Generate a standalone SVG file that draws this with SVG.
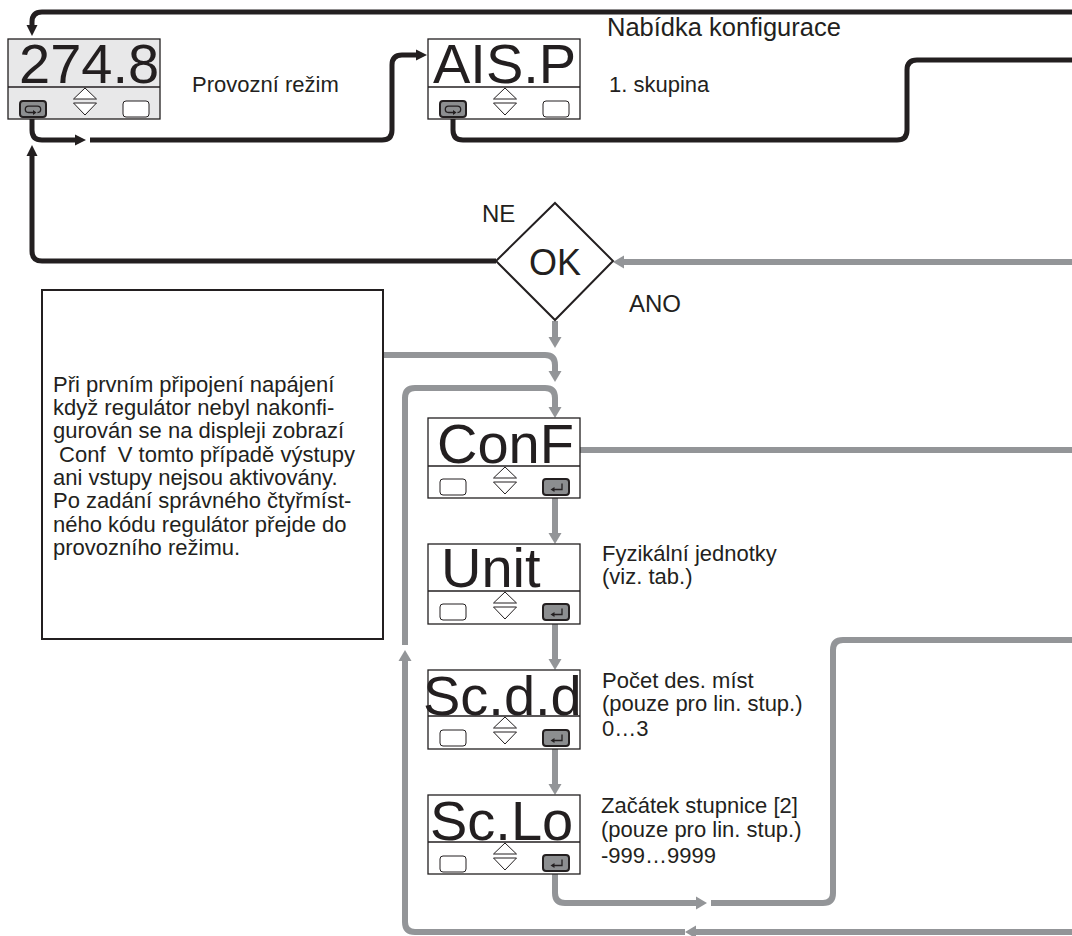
<svg xmlns="http://www.w3.org/2000/svg" xmlns:xlink="http://www.w3.org/1999/xlink" width="1072" height="936" viewBox="0 0 1072 936">
<style>
.t{font-family:"Liberation Sans",Arial,Helvetica,sans-serif;fill:#231f20}
.lbl{font-size:22px}
.big{font-size:56px}
.box{fill:#fff;stroke:#231f20;stroke-width:1.3}
.div{stroke:#231f20;stroke-width:1.3}
.blk{fill:none;stroke:#231f20;stroke-width:5}
.gry{fill:none;stroke:#939598;stroke-width:6}
.dk{fill:#8c8e90;stroke:#231f20;stroke-width:2}
</style>
<defs>
<marker id="ab" markerUnits="userSpaceOnUse" markerWidth="12" markerHeight="12" refX="0" refY="6" orient="auto"><path d="M0,0.5 L11,6 L0,11.5z" fill="#231f20"/></marker>
<marker id="ag" markerUnits="userSpaceOnUse" markerWidth="13" markerHeight="14" refX="0" refY="7" orient="auto"><path d="M0,0.5 L11,7 L0,13.5z" fill="#939598"/></marker>
<g id="loopBtn"><rect width="26" height="16" rx="3" class="dk"/><path d="M15,11.5 H8.5 a3.2,3.2 0 0 1 0,-6.4 H17.5 a3.2,3.2 0 0 1 0,6.4" fill="none" stroke="#231f20" stroke-width="1.3"/><path d="M13,9 L16.5,11.5 L13,14z" fill="#231f20"/></g>
<g id="entBtn"><rect width="26" height="16" rx="3" class="dk"/><path d="M19,4.5 V10.5 H11" fill="none" stroke="#231f20" stroke-width="1.3"/><path d="M7.5,10.5 L11.5,8 L11.5,13z" fill="#231f20"/></g>
<g id="emptyBtn"><rect width="26" height="16" rx="3" fill="#fff" stroke="#231f20" stroke-width="1"/></g>
<g id="ud"><path d="M-11.5,11 L0,0 L11.5,11z M-11.5,15 L0,27 L11.5,15z" fill="#fff" stroke="#231f20" stroke-width="1"/></g>
</defs>

<g id="connectors">
<path class="blk" d="M1072,12 H42 Q32,12 32,22 V25" marker-end="url(#ab)"/>
<path class="blk" d="M32,118 V130 Q32,140 42,140 H75" marker-end="url(#ab)"/>
<path class="blk" d="M90,140 H382 Q392,140 392,130 V65 Q392,55 402,55 H416" marker-end="url(#ab)"/>
<path class="blk" d="M453,118 V130 Q453,140 463,140 H897 Q907,140 907,130 V70 Q907,60 917,60 H1072"/>
<path class="blk" d="M496,261 H42 Q32,261 32,251 V156" marker-end="url(#ab)"/>
<path class="gry" d="M1072,262 H624" marker-end="url(#ag)"/>
<path class="gry" d="M555,321 V337" marker-end="url(#ag)"/>
<path class="gry" d="M383,355 H545 Q555,355 555,365 V371" marker-end="url(#ag)"/>
<path class="gry" d="M405,645 V398 Q405,388 415,388 H545 Q555,388 555,398 V407" marker-end="url(#ag)"/>
<path class="gry" d="M580,450 H1072"/>
<path class="gry" d="M555,496 V533" marker-end="url(#ag)"/>
<path class="gry" d="M555,622 V659" marker-end="url(#ag)"/>
<path class="gry" d="M555,748 V784" marker-end="url(#ag)"/>
<path class="gry" d="M555,873 V893 Q555,903 565,903 H696" marker-end="url(#ag)"/>
<path class="gry" d="M711,903 H823 Q833,903 833,893 V650 Q833,640 843,640 H1072"/>
<path class="gry" d="M1072,932 H696" marker-end="url(#ag)"/>
<path class="gry" d="M685,932 H415 Q405,932 405,922 V661" marker-end="url(#ag)"/>
</g>

<g id="node-2748">
<rect x="8" y="39" width="152" height="80" class="box" style="fill:#e8e8e9"/>
<line x1="8" y1="87" x2="160" y2="87" class="div"/>
<text x="19" y="83" class="t big">274.8</text>
<use href="#loopBtn" x="20" y="101"/>
<use href="#ud" x="85" y="88"/>
<use href="#emptyBtn" x="123" y="101"/>
</g>
<text x="192" y="92" class="t lbl">Provozní režim</text>

<g id="node-aisp">
<rect x="428" y="39" width="152" height="80" class="box"/>
<line x1="428" y1="87" x2="580" y2="87" class="div"/>
<text x="433" y="83" class="t big">AIS.P</text>
<use href="#loopBtn" x="440" y="101"/>
<use href="#ud" x="505" y="88"/>
<use href="#emptyBtn" x="543" y="101"/>
</g>
<text x="607" y="36" class="t" style="font-size:25.5px">Nabídka konfigurace</text>
<text x="609" y="92" class="t lbl">1. skupina</text>

<g id="node-ok">
<path d="M555,203 L613,261 L555,320 L496,261z" fill="#fff" stroke="#231f20" stroke-width="2"/>
<text x="555" y="275" text-anchor="middle" class="t" style="font-size:36px">OK</text>
</g>
<text x="482" y="222" class="t" style="font-size:24px">NE</text>
<text x="629" y="312" class="t" style="font-size:24px">ANO</text>

<g id="node-note">
<rect x="42" y="290" width="341" height="349" fill="#fff" stroke="#231f20" stroke-width="2"/>
<text class="t lbl" style="white-space:pre">
<tspan x="53" y="392">Při prvním připojení napájení</tspan>
<tspan x="53" y="415">když regulátor nebyl nakonfi-</tspan>
<tspan x="53" y="438">gurován se na displeji zobrazí</tspan>
<tspan x="53" y="462"> Conf  V tomto případě výstupy</tspan>
<tspan x="53" y="485">ani vstupy nejsou aktivovány.</tspan>
<tspan x="53" y="508">Po zadání správného čtyřmíst-</tspan>
<tspan x="53" y="532">ného kódu regulátor přejde do</tspan>
<tspan x="53" y="555">provozního režimu.</tspan>
</text>
</g>

<g id="node-conf">
<rect x="428" y="418" width="152" height="80" class="box"/>
<line x1="428" y1="466" x2="580" y2="466" class="div"/>
<text x="437" y="463" class="t big">ConF</text>
<use href="#emptyBtn" x="440" y="479"/>
<use href="#ud" x="505" y="467"/>
<use href="#entBtn" x="543" y="479"/>
</g>

<g id="node-unit">
<rect x="428" y="544" width="152" height="80" class="box"/>
<line x1="428" y1="591" x2="580" y2="591" class="div"/>
<text x="441" y="587" class="t big">Unit</text>
<use href="#emptyBtn" x="440" y="604"/>
<use href="#ud" x="505" y="592"/>
<use href="#entBtn" x="543" y="604"/>
</g>
<text class="t lbl"><tspan x="602" y="561">Fyzikální jednotky</tspan><tspan x="602" y="584">(viz. tab.)</tspan></text>

<g id="node-scdd">
<rect x="428" y="670" width="152" height="79" class="box"/>
<line x1="428" y1="716" x2="580" y2="716" class="div"/>
<text x="423" y="715" class="t big">Sc.d.d</text>
<use href="#emptyBtn" x="440" y="730"/>
<use href="#ud" x="505" y="717"/>
<use href="#entBtn" x="543" y="730"/>
</g>
<text class="t lbl"><tspan x="602" y="688">Počet des. míst</tspan><tspan x="602" y="711">(pouze pro lin. stup.)</tspan><tspan x="602" y="736">0…3</tspan></text>

<g id="node-sclo">
<rect x="428" y="795" width="152" height="79" class="box"/>
<line x1="428" y1="842" x2="580" y2="842" class="div"/>
<text x="430" y="840" class="t big">Sc.Lo</text>
<use href="#emptyBtn" x="440" y="856"/>
<use href="#ud" x="505" y="843"/>
<use href="#entBtn" x="543" y="855"/>
</g>
<text class="t lbl"><tspan x="601" y="813">Začátek stupnice [2]</tspan><tspan x="601" y="837">(pouze pro lin. stup.)</tspan><tspan x="601" y="863">-999…9999</tspan></text>
</svg>
